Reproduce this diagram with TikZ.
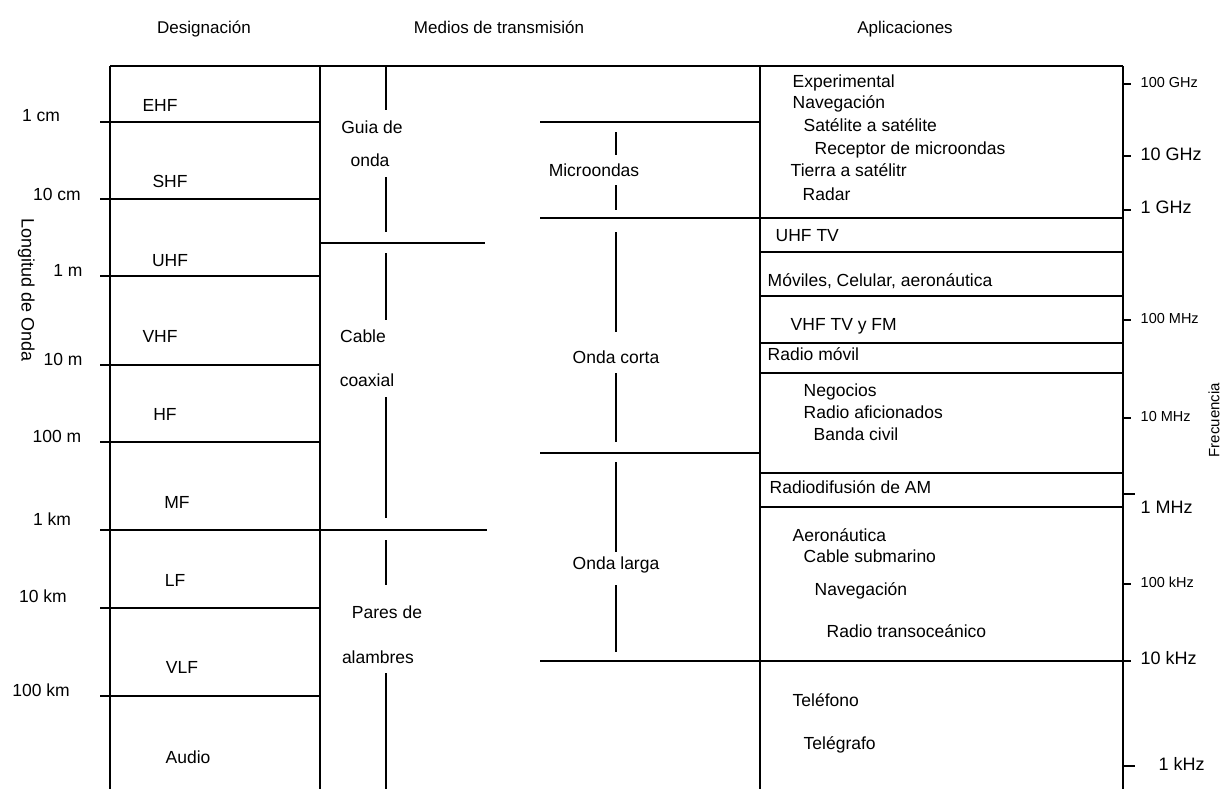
\documentclass[tikz,border=0pt]{standalone}
\usepackage{fontspec}
\setmainfont{Liberation Sans}
\usetikzlibrary{calc}

\tikzset{
	txt/.style={inner sep=0pt, text height=1.6ex, text depth=.3ex},
	head/.style={txt, font=\fontsize{17}{17}\selectfont},
	band/.style={txt, font=\fontsize{17.5}{17.5}\selectfont},
	app/.style={txt, anchor=west, font=\fontsize{17.5}{17.5}\selectfont},
	freqbig/.style={txt, anchor=west, font=\fontsize{18}{18}\selectfont},
	freqsmall/.style={txt, anchor=west, font=\fontsize{14.5}{14.5}\selectfont},
}

\begin{document}
\begin{tikzpicture}[x=1pt, y=-1pt, line width=1.4pt]
			\useasboundingbox (0,0) rectangle (1230,789);

			\node[head] (hdes) at (204, 30){Designación};
			\node[head] (hmed) at (499, 30){Medios de transmisión};
			\node[head] (hapl) at (905, 30){Aplicaciones};

			\draw (110, 66)--(1123, 66);
			\draw (110, 66)--(110, 789);
			\draw (320, 66)--(320, 789);
			\draw (760, 66)--(760, 789);
			\draw (1123, 66)--(1123, 789);

			\draw (100, 122)--(320, 122);
			\draw (100, 199)--(320, 199);
			\draw (100, 276)--(320, 276);
			\draw (100, 365)--(320, 365);
			\draw (100, 442)--(320, 442);
			\draw (100, 530)--(487, 530);
			\draw (100, 608)--(320, 608);
			\draw (100, 696)--(320, 696);

			\node[band] (lcm) at (41, 118){1 cm};
			\node[band] (ldcm) at (57, 197){10 cm};
			\node[band] (lm) at (68, 273){1 m};
			\node[band] (ldm) at (63, 362){10 m};
			\node[band] (lcentm) at (57, 439){100 m};
			\node[band] (lkm) at (52, 522){1 km};
			\node[band] (ldkm) at (43, 599){10 km};
			\node[band] (lcentkm) at (41, 693){100 km};
			\node[band, rotate=-90, font=\fontsize{18}{18}\selectfont] (longitud) at (25, 290){Longitud de Onda};

			\node[band] (ehf) at (160, 108){EHF};
			\node[band] (shf) at (170, 184){SHF};
			\node[band] (uhf) at (170, 263){UHF};
			\node[band] (vhf) at (160, 339){VHF};
			\node[band] (hf) at (165, 417){HF};
			\node[band] (mf) at (177, 505){MF};
			\node[band] (lf) at (175, 583){LF};
			\node[band] (vlf) at (182, 670){VLF};
			\node[band] (audio) at (188, 760){Audio};

			\draw (320, 243)--(485, 243);
			\node[band] (guia) at (372, 130){Guia de};
			\node[band] (onda) at (370, 163){onda};
			\node[band] (cable) at (363, 339){Cable};
			\node[band] (coax) at (367, 383){coaxial};
			\node[band] (pares) at (387, 615){Pares de};
			\node[band] (alamb) at (378, 660){alambres};
			\draw (386, 66)--(386, 110);
			\draw (386, 177)--(386, 232);
			\draw (386, 253)--(386, 320);
			\draw (386, 397)--(386, 518);
			\draw (386, 540)--(386, 585);
			\draw (386, 673)--(386, 789);

			\draw (540, 122)--(760, 122);
			\draw (540, 218)--(1123, 218);
			\draw (540, 453)--(760, 453);
			\draw (540, 661)--(1131, 661);
			\node[band] (micro) at (594, 173){Microondas};
			\node[band] (corta) at (616, 360){Onda corta};
			\node[band] (larga) at (616, 566){Onda larga};
			\draw (616, 132)--(616, 155);
			\draw (616, 185)--(616, 210);
			\draw (616, 232)--(616, 332);
			\draw (616, 373)--(616, 442);
			\draw (616, 462)--(616, 552);
			\draw (616, 585)--(616, 652);

			\draw (760, 252)--(1123, 252);
			\draw (760, 296)--(1123, 296);
			\draw (760, 343)--(1123, 343);
			\draw (760, 373)--(1123, 373);
			\draw (760, 473)--(1123, 473);
			\draw (760, 507)--(1123, 507);

			\node[app] (exper) at (792, 84){Experimental};
			\node[app] (nav) at (792, 105){Navegación};
			\node[app] (satsat) at (803, 128){Satélite a satélite};
			\node[app] (recep) at (814, 151){Receptor de microondas};
			\node[app] (tierra) at (790, 173){Tierra a satélitr};
			\node[app] (radar) at (802, 197){Radar};
			\node[app] (uhftv) at (775, 238){UHF TV};
			\node[app] (moviles) at (767, 283){Móviles, Celular, aeronáutica};
			\node[app] (vhftv) at (790, 327){VHF TV y FM};
			\node[app] (radmov) at (767, 357){Radio móvil};
			\node[app] (negoc) at (803, 393){Negocios};
			\node[app] (afic) at (803, 415){Radio aficionados};
			\node[app] (banda) at (813, 437){Banda civil};
			\node[app] (radam) at (769, 490){Radiodifusión de AM};
			\node[app] (aero) at (792, 538){Aeronáutica};
			\node[app] (subm) at (803, 559){Cable submarino};
			\node[app] (navb) at (814, 592){Navegación};
			\node[app] (trans) at (826, 634){Radio transoceánico};
			\node[app] (telef) at (792, 703){Teléfono};
			\node[app] (teleg) at (803, 746){Telégrafo};

			\draw (1123, 84)--(1131, 84);
			\draw (1123, 156)--(1131, 156);
			\draw (1123, 210)--(1131, 210);
			\draw (1123, 320)--(1131, 320);
			\draw (1123, 418)--(1131, 418);
			\draw (1123, 494)--(1135, 494);
			\draw (1123, 584)--(1131, 584);
			\draw (1123, 766)--(1135, 766);
			\node[freqsmall] (fa) at (1140, 84){100 GHz};
			\node[freqbig] (fb) at (1140, 157){10 GHz};
			\node[freqbig] (fc) at (1140, 210){1 GHz};
			\node[freqsmall] (fd) at (1140, 320){100 MHz};
			\node[freqsmall] (fe) at (1140, 418){10 MHz};
			\node[freqbig] (ff) at (1140, 510){1 MHz};
			\node[freqsmall] (fg) at (1140, 584){100 kHz};
			\node[freqbig] (fh) at (1140, 661){10 kHz};
			\node[freqbig] (fi) at (1158, 767){1 kHz};
			\node[freqsmall, rotate=90, font=\fontsize{15}{15}\selectfont] (frec) at (1216, 458){Frecuencia};
		\end{tikzpicture}
\end{document}
